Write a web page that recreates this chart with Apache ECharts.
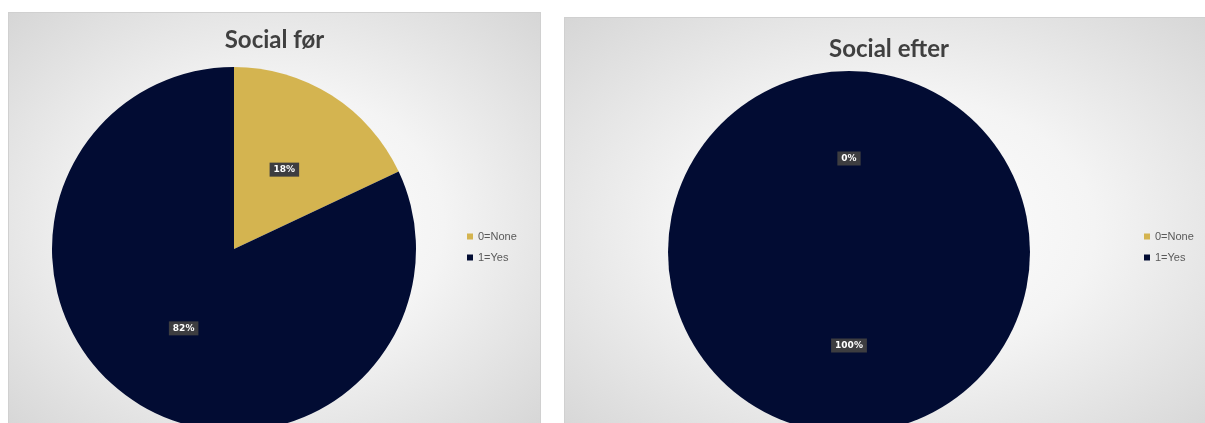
<!DOCTYPE html>
<html>
<head>
<meta charset="utf-8">
<script src="https://cdn.jsdelivr.net/npm/echarts@6/dist/echarts.min.js"></script>
<style>
html,body{margin:0;padding:0;background:#fff;width:1205px;height:423px;overflow:hidden;}
.panel{position:absolute;box-sizing:border-box;border:1px solid #d0d0d0;
 background:radial-gradient(ellipse at center,#ffffff 0%,#f4f4f4 45%,#d6d6d6 100%);}
#p1{left:8px;top:12px;width:533px;height:420px;}
#p2{left:564px;top:17px;width:650px;height:420px;}
</style>
</head>
<body>
<div id="p1" class="panel"></div>
<div id="p2" class="panel"></div>
<script>
const categories = ['0=None', '1=Yes'];
const beforeValues = [18, 82];
const afterValues = [0, 100];
const titles = ['Social før', 'Social efter'];
const colors = ['#D4B450', '#020C33'];

function build(el, title, values, cx, cy, r, titleTop, legendLeft, legendTop) {
  const chart = echarts.init(el, null, {renderer: 'canvas'});
  chart.setOption({
    animation: false,
    color: colors,
    title: {
      text: title, left: 'center', top: titleTop,
      textStyle: {fontFamily: 'Lato', fontWeight: 'bold', fontSize: 24, color: '#404040'}
    },
    legend: {
      orient: 'vertical', left: legendLeft, top: legendTop,
      itemWidth: 6, itemHeight: 6, itemGap: 10, icon: 'rect',
      textStyle: {fontFamily: 'Liberation Sans', fontSize: 11, color: '#595959'},
      data: categories
    },
    series: [{
      type: 'pie',
      center: [cx, cy], radius: r,
      startAngle: 90, clockwise: true,
      avoidLabelOverlap: false,
      percentPrecision: 0,
      label: {
        show: true, position: 'inside',
        formatter: '{d}%',
        backgroundColor: '#3d3d40',
        color: '#ffffff', fontWeight: 'bold', fontSize: 9,
        fontFamily: 'DejaVu Sans',
        padding: [3, 4, 2, 4]
      },
      labelLine: {show: false},
      itemStyle: {borderWidth: 0},
      emphasis: {disabled: true},
      data: categories.map((c, i) => ({name: c, value: values[i]}))
    }]
  });
}
build(document.getElementById('p1'), titles[0], beforeValues, 225, 236, 182, 10, 453, 213);
build(document.getElementById('p2'), titles[1], afterValues, 284, 234, 181, 14, 574, 208);
</script>
</body>
</html>
